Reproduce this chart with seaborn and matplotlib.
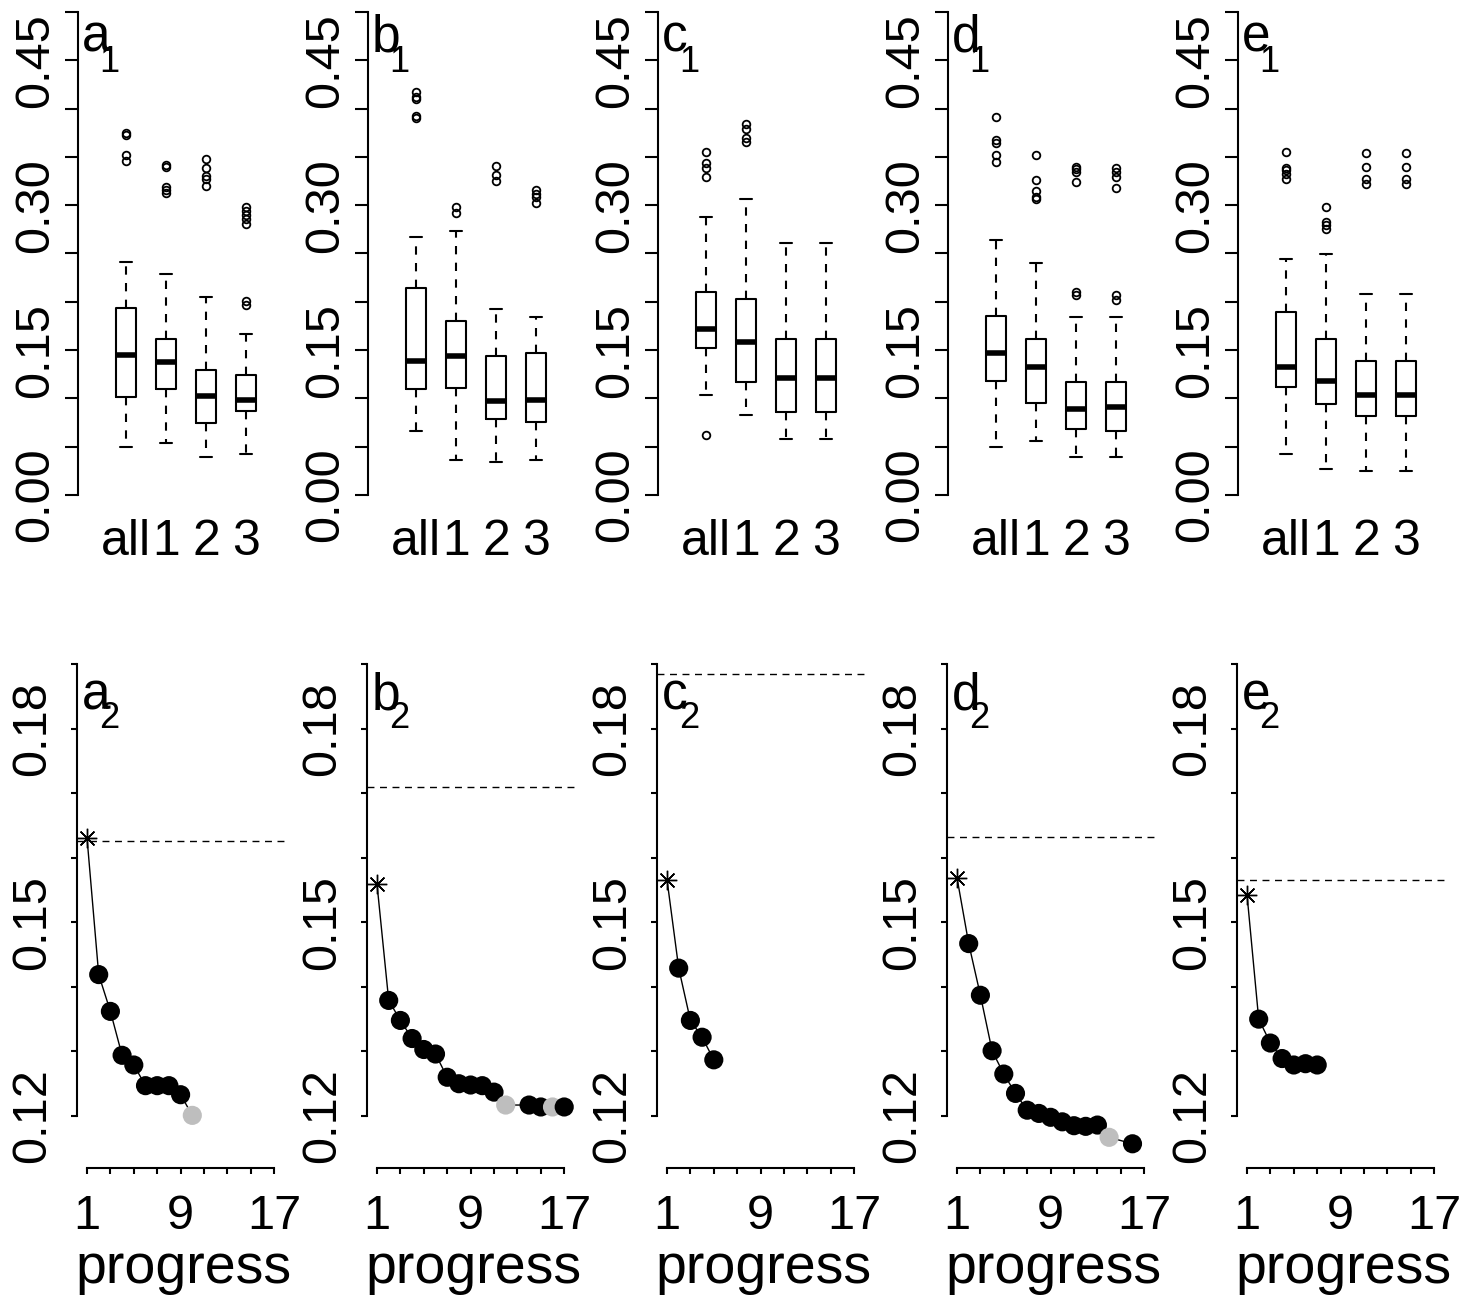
import numpy as np
import matplotlib
matplotlib.use('Agg')
import matplotlib.pyplot as plt
import seaborn as sns

sns.set_style('white')
plt.rcParams['font.family'] = ['Liberation Sans', 'DejaVu Sans']
plt.rcParams['text.color'] = 'black'
plt.rcParams['axes.labelcolor'] = 'black'
plt.rcParams['xtick.color'] = 'black'
plt.rcParams['ytick.color'] = 'black'

panels = ['a', 'b', 'c', 'd', 'e']
groups = ['all', '1', '2', '3']

# box summaries (rows = panels a..e, columns = all/1/2/3)
whis_hi = [[0.241, 0.229, 0.205, 0.167],
           [0.267, 0.273, 0.193, 0.184],
           [0.288, 0.306, 0.261, 0.261],
           [0.264, 0.240, 0.184, 0.184],
           [0.244, 0.249, 0.208, 0.208]]
q3 = [[0.194, 0.161, 0.129, 0.124],
      [0.214, 0.180, 0.144, 0.147],
      [0.210, 0.203, 0.162, 0.162],
      [0.185, 0.162, 0.117, 0.117],
      [0.189, 0.161, 0.139, 0.139]]
med = [[0.145, 0.138, 0.102, 0.098],
       [0.139, 0.144, 0.097, 0.098],
       [0.172, 0.158, 0.121, 0.121],
       [0.147, 0.133, 0.089, 0.091],
       [0.133, 0.118, 0.103, 0.103]]
q1 = [[0.101, 0.110, 0.075, 0.087],
      [0.110, 0.111, 0.079, 0.076],
      [0.152, 0.117, 0.086, 0.086],
      [0.118, 0.095, 0.068, 0.066],
      [0.112, 0.094, 0.082, 0.082]]
whis_lo = [[0.050, 0.054, 0.039, 0.042],
           [0.066, 0.036, 0.034, 0.036],
           [0.103, 0.083, 0.058, 0.058],
           [0.050, 0.056, 0.039, 0.039],
           [0.042, 0.027, 0.025, 0.025]]
outliers = [
    [[0.375, 0.373, 0.352, 0.346], [0.342, 0.340, 0.319, 0.316, 0.313],
     [0.348, 0.338, 0.330, 0.327, 0.320], [0.298, 0.294, 0.290, 0.286, 0.281, 0.201, 0.197]],
    [[0.417, 0.412, 0.410, 0.392, 0.390], [0.298, 0.292],
     [0.341, 0.331, 0.325], [0.316, 0.312, 0.308, 0.302]],
    [[0.355, 0.344, 0.338, 0.329, 0.062], [0.384, 0.379, 0.370, 0.365], [], []],
    [[0.391, 0.367, 0.364, 0.352, 0.345], [0.352, 0.326, 0.315, 0.309, 0.306],
     [0.340, 0.337, 0.334, 0.324, 0.210, 0.207], [0.338, 0.334, 0.329, 0.318, 0.207, 0.202]],
    [[0.355, 0.338, 0.336, 0.332, 0.327], [0.298, 0.283, 0.279, 0.275],
     [0.354, 0.340, 0.327, 0.322], [0.354, 0.340, 0.327, 0.322]],
]

# progress curves (bottom row); first point is the start (asterisk)
prog_x = [[1, 2, 3, 4, 5, 6, 7, 8, 9, 10],
          [1, 2, 3, 4, 5, 6, 7, 8, 9, 10, 11, 12, 14, 15, 16, 17],
          [1, 2, 3, 4, 5],
          [1, 2, 3, 4, 5, 6, 7, 8, 9, 10, 11, 12, 13, 14, 16],
          [1, 2, 3, 4, 5, 6, 7]]
prog_y = [[0.1631, 0.1419, 0.1362, 0.1294, 0.1279, 0.1247, 0.1247, 0.1247, 0.1233, 0.1201],
          [0.1559, 0.1379, 0.1348, 0.1320, 0.1303, 0.1296, 0.1260, 0.1250, 0.1248, 0.1247,
           0.1237, 0.1217, 0.1217, 0.1214, 0.1214, 0.1214],
          [0.1566, 0.1429, 0.1348, 0.1322, 0.1287],
          [0.1569, 0.1467, 0.1387, 0.1301, 0.1265, 0.1235, 0.1209, 0.1204, 0.1198, 0.1191,
           0.1185, 0.1184, 0.1186, 0.1167, 0.1157],
          [0.1543, 0.1350, 0.1313, 0.1289, 0.1279, 0.1281, 0.1279]]
prog_grey = [[10], [12, 16], [], [14], []]
reference_level = [0.1626, 0.1709, 0.1885, 0.1632, 0.1566]

W, H = 1470, 1299
fig = plt.figure(figsize=(W / 100, H / 100), dpi=100)


def px_axes(left, top, right, bottom):
    return fig.add_axes([left / W, 1 - bottom / H, (right - left) / W, (bottom - top) / H])


big = 35
for i, p in enumerate(panels):
    off = 290 * i

    # ---- top row: boxplots
    ax = px_axes(78 + off, 10, 288 + off, 500)
    stats = []
    for j, g in enumerate(groups):
        stats.append(dict(med=med[i][j], q1=q1[i][j], q3=q3[i][j],
                          whislo=whis_lo[i][j], whishi=whis_hi[i][j],
                          fliers=outliers[i][j], label=g))
    ax.bxp(stats, positions=[1, 2, 3, 4], widths=0.52, capwidths=0.3,
           boxprops=dict(color='black', lw=1.5),
           whiskerprops=dict(color='black', lw=1.5, linestyle=(0, (4, 4))),
           capprops=dict(color='black', lw=1.5),
           medianprops=dict(color='black', lw=4),
           flierprops=dict(marker='o', markerfacecolor='none', markeredgecolor='black',
                           markersize=5.5, markeredgewidth=1.3))
    ax.set_xlim(-0.2, 5.05)
    ax.set_ylim(-0.00518, 0.50207)
    for s in ['top', 'right', 'bottom']:
        ax.spines[s].set_visible(False)
    ax.spines['left'].set_bounds(0, 0.5)
    ax.spines['left'].set_linewidth(1.5)
    ax.spines['left'].set_color('black')
    ax.set_yticks([0, 0.15, 0.30, 0.45])
    ax.set_yticklabels(['0.00', '0.15', '0.30', '0.45'], va='center')
    ax.set_yticks([0.05, 0.10, 0.20, 0.25, 0.35, 0.40, 0.50], minor=True)
    ax.tick_params(axis='y', which='both', left=True, length=9.5, width=1.5)
    ax.tick_params(axis='y', which='major', labelsize=big, labelrotation=90, pad=5)
    ax.tick_params(axis='x', length=0, labelsize=36, pad=14)
    ax.set_xticks([1, 2, 3, 4])
    ax.set_xticklabels(groups)
    fig.text((82 + off) / W, 1 - 52 / H, p, fontsize=37)
    fig.text((99 + off) / W, 1 - 72 / H, '1', fontsize=26)

    # ---- bottom row: progress curves
    bx = px_axes(77 + off, 655, 290 + off, 1168)
    xs, ys = prog_x[i], prog_y[i]
    sns.lineplot(x=xs, y=ys, ax=bx, color='black', lw=1, sort=False, estimator=None)
    state = ['grey' if x in prog_grey[i] else 'black' for x in xs]
    sns.scatterplot(x=xs[1:], y=ys[1:], hue=state[1:], palette={'black': 'black', 'grey': '#BEBEBE'},
                    ax=bx, s=190, linewidth=0, legend=False, zorder=3)
    bx.plot(xs[0], ys[0], marker=(8, 2, 0), markersize=14, color='black', mew=1, zorder=4)
    bx.axhline(reference_level[i], color='black', lw=1, linestyle=(0, (5, 4)))
    bx.set_xlim(0.145, 18.35)
    bx.set_ylim(0.11195, 0.19139)
    for s in ['top', 'right']:
        bx.spines[s].set_visible(False)
    bx.spines['left'].set_bounds(0.12, 0.19)
    bx.spines['bottom'].set_bounds(1, 17)
    for s in ['left', 'bottom']:
        bx.spines[s].set_linewidth(1.5)
        bx.spines[s].set_color('black')
    bx.set_yticks([0.12, 0.15, 0.18])
    bx.set_yticklabels(['0.12', '0.15', '0.18'], va='center')
    bx.set_yticks([0.13, 0.14, 0.16, 0.17, 0.19], minor=True)
    bx.set_xticks([1, 9, 17])
    bx.set_xticklabels(['1', '9', '17'])
    bx.set_xticks([3, 5, 7, 11, 13, 15], minor=True)
    bx.tick_params(axis='both', which='both', length=4.5, width=1.5)
    bx.tick_params(axis='y', which='both', left=True)
    bx.tick_params(axis='x', which='both', bottom=True)
    bx.tick_params(axis='y', which='major', labelsize=big, labelrotation=90, pad=11)
    bx.tick_params(axis='x', which='major', labelsize=big, pad=14)
    bx.set_xlabel('progress', fontsize=40, labelpad=3)
    bx.set_ylabel('')
    fig.text((82 + off) / W, 1 - 709 / H, p, fontsize=37)
    fig.text((99 + off) / W, 1 - 728 / H, '2', fontsize=26)

fig.savefig('out.png', dpi=100)
